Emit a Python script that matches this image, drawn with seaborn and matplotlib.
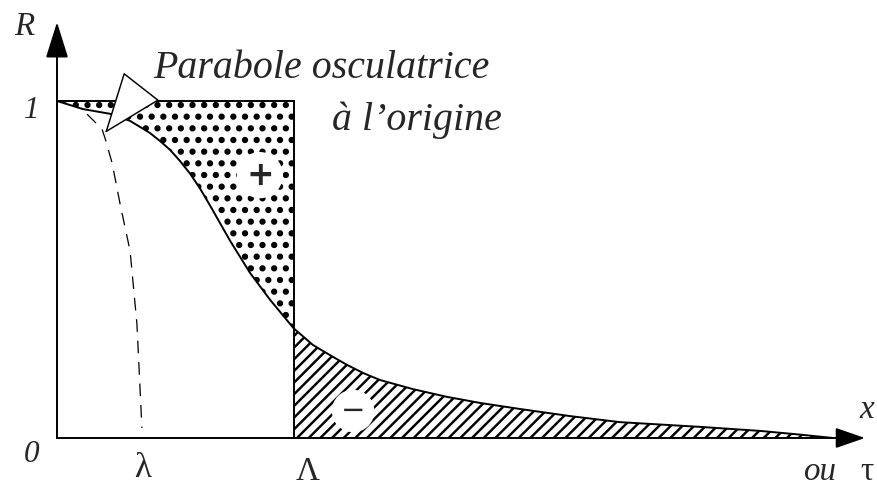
import numpy as np
import matplotlib
matplotlib.use("Agg")
import matplotlib.pyplot as plt
import seaborn as sns

# Courbe R(x) (abscisses en unités de Lambda)
tau = [0.0, 0.110, 0.224, 0.309, 0.393, 0.436, 0.478, 0.520, 0.562, 0.605,
       0.647, 0.732, 0.816, 0.901, 1.0, 1.082, 1.154, 1.226, 1.294, 1.366,
       1.505, 1.649, 1.789, 1.958, 2.169, 2.381, 2.719, 2.973, 3.142, 3.281]
R = [1.0, 0.976, 0.962, 0.941, 0.905, 0.881, 0.855, 0.822, 0.785, 0.740,
     0.690, 0.585, 0.490, 0.410, 0.326, 0.276, 0.246, 0.217, 0.193, 0.172,
     0.145, 0.122, 0.104, 0.086, 0.065, 0.047, 0.033, 0.021, 0.010, 0.0]

# parabole osculatrice (tirets)
tau_par = [0.127, 0.190, 0.203, 0.233, 0.266, 0.309, 0.338, 0.359]
R_par = [0.961, 0.917, 0.890, 0.816, 0.697, 0.555, 0.338, 0.030]

lam = 0.36      # lambda
Lam = 1.0       # Lambda

DPI = 70
sns.set_theme(style="white")
plt.rcParams["font.family"] = ["Liberation Serif", "DejaVu Serif"]
plt.rcParams["hatch.color"] = "black"

fig = plt.figure(figsize=(877 / DPI, 500 / DPI), dpi=DPI)
ax = fig.add_axes([0, 0, 1, 1])
ax.set_xlim(-0.241, 3.467)
ax.set_ylim(-0.184, 1.2997)
ax.axis("off")

x = np.array(tau)
y = np.array(R)

# zones + et -
plt.rcParams["hatch.linewidth"] = 4.0
ax.fill_between(x, y, 1.0, where=x <= Lam, facecolor="white",
                edgecolor="black", hatch=".", linewidth=0, zorder=1)
plt.rcParams["hatch.linewidth"] = 2.5
ax.fill_between(x, 0.0, y, where=x >= Lam, facecolor="white",
                edgecolor="black", hatch="//", linewidth=0, zorder=1)

sns.lineplot(x=tau, y=R, ax=ax, color="black", lw=2.0,
             estimator=None, sort=False, zorder=3)
sns.lineplot(x=tau_par, y=R_par, ax=ax, color="black", lw=1.3,
             linestyle=(0, (10, 7)), estimator=None, sort=False, zorder=3)

ax.plot([0, Lam], [1, 1], color="black", lw=2.0, zorder=3)
ax.plot([Lam, Lam], [0, 1], color="black", lw=2.0, zorder=3)

# axes avec flèches
ax.annotate("", xy=(0, 1.234), xytext=(0, 0),
            arrowprops=dict(arrowstyle="-|>,head_length=3.2,head_width=1.0",
                            mutation_scale=10, color="black", lw=2,
                            shrinkA=0, shrinkB=0), zorder=4)
ax.annotate("", xy=(3.416, 0), xytext=(0, 0),
            arrowprops=dict(arrowstyle="-|>,head_length=2.6,head_width=0.9",
                            mutation_scale=10, color="black", lw=2,
                            shrinkA=0, shrinkB=0), zorder=4)

# flèche creuse vers la parabole
ax.annotate("", xy=(0.203, 0.905), xytext=(0.349, 1.036),
            arrowprops=dict(arrowstyle="-|>,head_length=5.8,head_width=2.2",
                            mutation_scale=10, fc="white", ec="black", lw=1.5,
                            shrinkA=0, shrinkB=0), zorder=6)

# signes dans les zones
ax.text(0.858, 0.780, "+", fontsize=34, fontweight="bold", ha="center",
        va="center", family="DejaVu Sans", zorder=5,
        bbox=dict(boxstyle="circle,pad=0.2", fc="white", ec="none"))
ax.text(1.252, 0.080, "\u2212", fontsize=30, ha="center", va="center",
        family="DejaVu Sans", zorder=5,
        bbox=dict(boxstyle="circle,pad=0.25", fc="white", ec="none"))

# textes
ax.text(0.406, 1.068, "Parabole osculatrice", fontsize=41, style="italic",
        ha="left", va="baseline", zorder=5)
ax.text(1.882, 0.914, "à l\u2019origine", fontsize=41, style="italic",
        ha="right", va="baseline", zorder=5)
ax.text(-0.140, 1.196, "R", fontsize=34, style="italic", ha="center",
        va="baseline")
ax.text(-0.106, 0.950, "1", fontsize=32, style="italic", ha="center",
        va="baseline")
ax.text(-0.106, -0.071, "0", fontsize=32, style="italic", ha="center",
        va="baseline")
ax.text(lam, -0.116, "λ", fontsize=36, ha="center", va="baseline")
ax.text(1.061, -0.125, "Λ", fontsize=34, ha="center", va="baseline")
ax.text(3.425, 0.059, "x", fontsize=34, style="italic", ha="center",
        va="baseline")
ax.text(3.154, -0.125, "ou", fontsize=34, style="italic", ha="left",
        va="baseline")
ax.text(3.425, -0.125, "τ", fontsize=34, ha="center", va="baseline")

fig.savefig("out.png", dpi=DPI)
